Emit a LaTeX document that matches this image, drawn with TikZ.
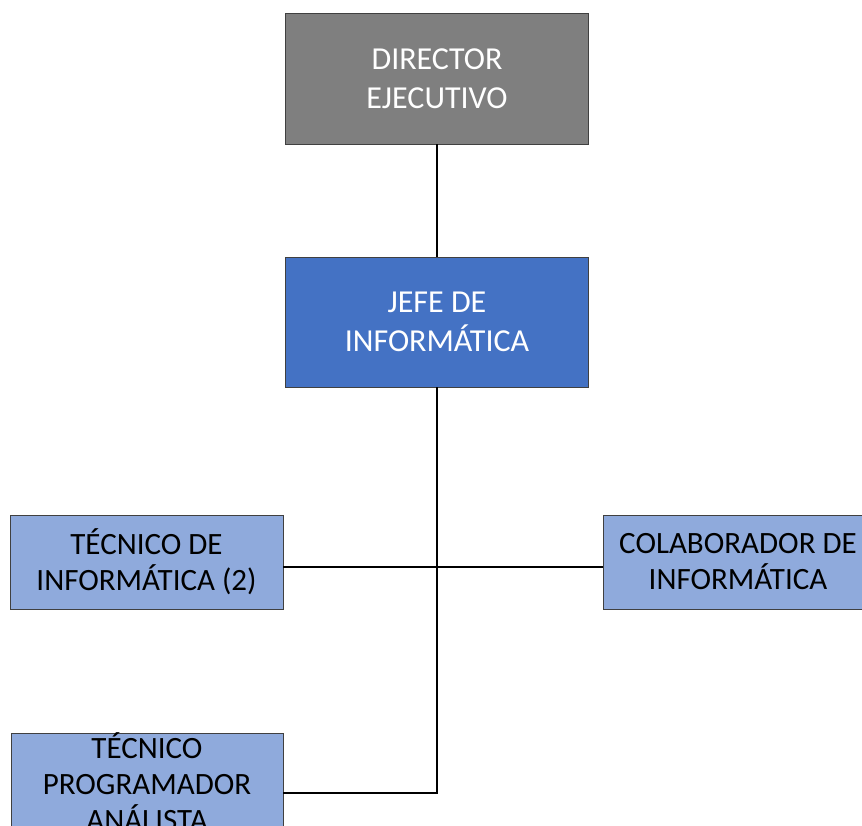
\documentclass[tikz,border=0pt]{standalone}
\usepackage{fontspec}
\setmainfont{Carlito}
\definecolor{dirgray}{HTML}{7F7F7F}
\definecolor{jefeblue}{HTML}{4472C4}
\definecolor{lightblue}{HTML}{8FAADC}
\definecolor{edgegray}{HTML}{404040}
\begin{document}
\begin{tikzpicture}[x=1pt,y=-1pt,
  box/.style={draw=edgegray,line width=0.9pt,rectangle,align=center,inner sep=0pt},
  topbox/.style={box,fill=dirgray,text=white,font=\fontsize{32}{39}\selectfont},
  midbox/.style={box,fill=jefeblue,text=white,font=\fontsize{32}{39}\selectfont},
  lowbox/.style={box,fill=lightblue,text=black,font=\fontsize{31}{36}\selectfont},
  conn/.style={black,line width=2pt}]
\useasboundingbox (0,0) rectangle (862,825);
\clip (0,0) rectangle (862,825);
\node[topbox,minimum width=303,minimum height=131] (dir) at (437,78.5) {DIRECTOR\\EJECUTIVO};
\node[midbox,minimum width=303,minimum height=130] (jefe) at (437,322) {JEFE DE\\INFORMÁTICA};
\node[lowbox,minimum width=273,minimum height=94] (tec) at (146.5,562) {TÉCNICO DE\\INFORMÁTICA (2)};
\node[lowbox,minimum width=270,minimum height=94] (col) at (738,562) {COLABORADOR DE\\INFORMÁTICA};
\node[lowbox,minimum width=272,minimum height=94] (prog) at (147,782) {TÉCNICO\\PROGRAMADOR\\ANÁLISTA};
\coordinate (hub) at (437,567);
\coordinate (bend) at (437,793);
\draw[conn] (dir.south) -- (jefe.north);
\draw[conn] (jefe.south) -- (jefe.south |- bend) -- (prog.east |- bend);
\draw[conn] (tec.east |- hub) -- (col.west |- hub);
\end{tikzpicture}
\end{document}
